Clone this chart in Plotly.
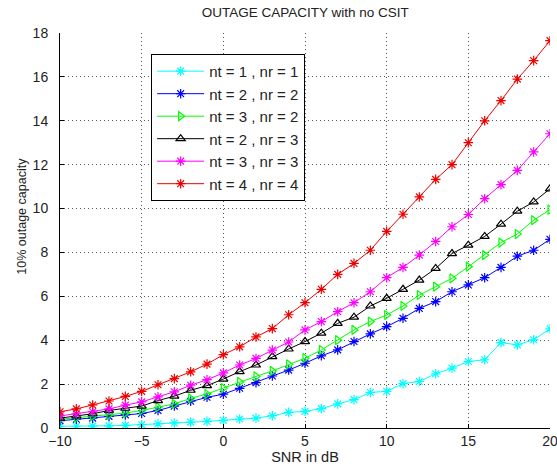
import plotly.graph_objects as go

snr = list(range(-10, 21))

cap_1x1 = [0.08, 0.08, 0.09, 0.10, 0.12, 0.15, 0.19, 0.23, 0.27, 0.30, 0.35, 0.41, 0.45, 0.56, 0.71,
           0.76, 0.88, 1.10, 1.29, 1.62, 1.67, 2.02, 2.12, 2.47, 2.73, 3.03, 3.11, 3.89, 3.79, 4.02, 4.52]
cap_2x2 = [0.33, 0.40, 0.45, 0.53, 0.60, 0.66, 0.80, 1.00, 1.22, 1.40, 1.54, 1.81, 2.07, 2.37, 2.64,
           2.95, 3.29, 3.56, 3.94, 4.29, 4.62, 5.00, 5.45, 5.76, 6.21, 6.52, 6.85, 7.32, 7.83, 8.10, 8.60]
cap_3x2 = [0.40, 0.47, 0.54, 0.60, 0.68, 0.80, 0.95, 1.10, 1.35, 1.55, 1.82, 2.10, 2.35, 2.60, 2.90,
           3.18, 3.56, 4.00, 4.47, 4.85, 5.15, 5.56, 6.06, 6.44, 6.82, 7.35, 7.88, 8.45, 8.84, 9.47, 9.95]
cap_2x3 = [0.45, 0.55, 0.65, 0.80, 0.90, 1.00, 1.25, 1.45, 1.72, 1.93, 2.23, 2.57, 2.87, 3.25, 3.60,
           3.94, 4.32, 4.77, 5.05, 5.56, 5.91, 6.32, 6.74, 7.27, 7.95, 8.33, 8.73, 9.29, 9.88, 10.30, 10.90]
cap_3x3 = [0.55, 0.65, 0.74, 0.87, 1.04, 1.19, 1.42, 1.65, 1.95, 2.20, 2.51, 2.87, 3.17, 3.55, 3.92,
           4.47, 4.85, 5.30, 5.71, 6.21, 6.85, 7.32, 7.88, 8.50, 9.17, 9.73, 10.45, 11.09, 11.74, 12.58, 13.41]
cap_4x4 = [0.74, 0.87, 1.05, 1.23, 1.44, 1.67, 1.97, 2.25, 2.56, 2.91, 3.34, 3.70, 4.15, 4.53, 5.16,
           5.71, 6.32, 7.00, 7.50, 8.10, 8.96, 9.74, 10.53, 11.33, 12.00, 13.00, 14.00, 14.92, 15.90, 16.74, 17.65]

x_ticks = [-10, -5, 0, 5, 10, 15, 20]
y_ticks = [0, 2, 4, 6, 8, 10, 12, 14, 16, 18]

series = [
    ("nt = 1 , nr = 1", cap_1x1, "#00FFFF", "asterisk-open"),
    ("nt = 2 , nr = 2", cap_2x2, "#0000FF", "asterisk-open"),
    ("nt = 3 , nr = 2", cap_3x2, "#00FF00", "triangle-right-open"),
    ("nt = 2 , nr = 3", cap_2x3, "#000000", "triangle-up-open"),
    ("nt = 3 , nr = 3", cap_3x3, "#FF00FF", "asterisk-open"),
    ("nt = 4 , nr = 4", cap_4x4, "#EE0000", "asterisk-open"),
]

fig = go.Figure()
for name, vals, color, sym in series:
    fig.add_trace(go.Scatter(
        x=snr, y=vals, name=name, mode="lines+markers",
        line=dict(color=color, width=1),
        marker=dict(symbol=sym, size=8, color=color, line=dict(color=color, width=1.2)),
    ))

fig.update_layout(
    width=557, height=470,
    margin=dict(l=60, r=7, t=33, b=42),
    paper_bgcolor="white", plot_bgcolor="white",
    font=dict(family="Liberation Sans, Arial, sans-serif", size=14, color="#222"),
    title=dict(text="OUTAGE CAPACITY with no CSIT", x=0.548, xanchor="center",
               y=0.974, yanchor="middle", font=dict(size=13.5, color="#222")),
    showlegend=True,
    legend=dict(x=0.186, y=0.947, xanchor="left", yanchor="top",
                bgcolor="white", bordercolor="black", borderwidth=1,
                font=dict(size=15, color="#222"), itemwidth=47,
                tracegroupgap=0),
    annotations=[dict(text="10% outage capacity", xref="paper", yref="paper",
                      x=-0.078, y=0.537, xanchor="center", yanchor="middle",
                      textangle=-90, showarrow=False,
                      font=dict(size=12.5, color="#222"))],
)
fig.update_xaxes(
    range=[-10, 20], tickvals=x_ticks,
    showgrid=True, gridcolor="#555", griddash="1px,3px", gridwidth=1,
    showline=True, linecolor="black", linewidth=1, mirror=False,
    ticks="inside", ticklen=4, tickcolor="black",
    tickfont=dict(size=14), automargin=False, ticklabeloverflow="allow",
    zeroline=False,
    title=dict(text="SNR in dB", standoff=4, font=dict(size=14.5)),
)
fig.update_yaxes(
    range=[0, 18], tickvals=y_ticks,
    showgrid=True, gridcolor="#555", griddash="1px,3px", gridwidth=1,
    showline=True, linecolor="black", linewidth=1, mirror=False,
    ticks="inside", ticklen=4, tickcolor="black",
    tickfont=dict(size=14), ticklabelstandoff=8, automargin=False,
    zeroline=False,
)

fig.write_html("out.html", config={"displayModeBar": False},
               post_script="document.body.style.margin='0';document.body.style.overflow='hidden';")
